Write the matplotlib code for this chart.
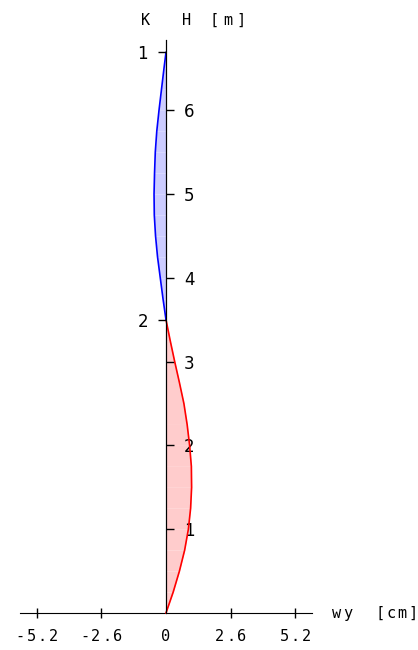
import matplotlib
matplotlib.use('Agg')
import matplotlib.pyplot as plt

# ************ DADOS ************
# trecho inferior (vermelho), H em m, wy em cm
H_inf = [0, 0.25, 0.5, 0.75, 1.0, 1.25, 1.5, 1.75, 2.0, 2.25, 2.5, 2.75, 3.0, 3.25, 3.5]
w_inf = [0, 0.29, 0.54, 0.75, 0.90, 0.99, 1.03, 1.02, 0.95, 0.85, 0.72, 0.54, 0.35, 0.17, 0]

# trecho superior (azul)
H_sup = [3.5, 3.75, 4.0, 4.25, 4.5, 4.75, 5.0, 5.25, 5.5, 5.75, 6.0, 6.25, 6.5, 6.69]
w_sup = [0, -0.12, -0.23, -0.34, -0.42, -0.47, -0.48, -0.46, -0.43, -0.37, -0.28, -0.18, -0.08, 0]

# nós (K)
H_nos = [6.69, 3.5]
rot_nos = ['1', '2']

# ticks
x_ticks = [-5.2, -2.6, 0, 2.6, 5.2]
x_rot = ['-5.2', '-2.6', '0', '2.6', '5.2']
h_ticks = [1, 2, 3, 4, 5, 6]

MONO = 'DejaVu Sans Mono'


def texto_espacado(ax, x, y, s, passo, dy=0, coords='data', **kw):
    # escreve caractere por caractere com espaçamento fixo (em pontos)
    n = len(s)
    x0 = -(n - 1) * passo / 2.0
    for i, ch in enumerate(s):
        if ch == ' ':
            continue
        ax.annotate(ch, xy=(x, y), xycoords=coords, xytext=(x0 + i * passo, dy),
                    textcoords='offset points', ha='center', va='center',
                    family=MONO, **kw)


def preenche(ax, H, w, cor):
    # preenche em faixas (igual ao original, que tem emendas claras)
    for i in range(len(H) - 1):
        ax.fill_betweenx(H[i:i + 2], 0, w[i:i + 2], color=cor, lw=0)


fig = plt.figure(figsize=(4.18, 6.5), dpi=100)
ax = fig.add_axes([0, 0, 1, 1])
ax.set_xlim(-6.672, 10.13)
ax.set_ylim(-0.4415, 7.315)

preenche(ax, H_inf, w_inf, '#ffcccc')
preenche(ax, H_sup, w_sup, '#ccccff')
ax.plot(w_inf, H_inf, color='red', lw=1.2, zorder=3)
ax.plot(w_sup, H_sup, color='blue', lw=1.2, zorder=3)

# eixo dos nós (K) à esquerda
ax2 = ax.twinx()
ax2.set_ylim(ax.get_ylim())
for lado in ['top', 'right', 'bottom']:
    ax2.spines[lado].set_visible(False)
ax2.spines['left'].set_position(('data', 0))
ax2.spines['left'].set_bounds(0, 6.84)
ax2.yaxis.set_ticks_position('left')
ax2.set_yticks(H_nos)
ax2.set_yticklabels(rot_nos)
ax2.tick_params(axis='y', direction='out', length=6, width=1, pad=7, labelsize=12)

# ************ EIXOS ************
for lado in ['top', 'left']:
    ax.spines[lado].set_visible(False)
ax.spines['right'].set_visible(True)
ax.spines['right'].set_position(('data', 0))
ax.spines['right'].set_bounds(0, 6.84)
ax.spines['bottom'].set_position(('data', 0))
ax.spines['bottom'].set_bounds(-5.87, 5.87)
ax.spines['right'].set_zorder(4)

ax.yaxis.set_ticks_position('right')
ax.yaxis.set_label_position('right')
ax.set_yticks(h_ticks)
ax.set_yticklabels([str(h) for h in h_ticks])
ax.tick_params(axis='y', which='both', left=False, labelleft=False, right=True, labelright=True,
               direction='out', length=6, width=1, pad=7, labelsize=12)

ax.set_xticks([t for t in x_ticks if t != 0])
ax.set_xticklabels([])
ax.tick_params(axis='x', direction='inout', length=7, width=1)

for t, r in zip(x_ticks, x_rot):
    texto_espacado(ax, t, 0, r, 8.0, dy=-17, fontsize=11)

# títulos dos eixos
texto_espacado(ax, 1.105, 7.076, 'K  H [m]', 9.8, dy=0, fontsize=11)
texto_espacado(ax, 8.4, 0, 'wy  [cm]', 7.8, dy=0, fontsize=11)

fig.savefig('out.png', dpi=100)
